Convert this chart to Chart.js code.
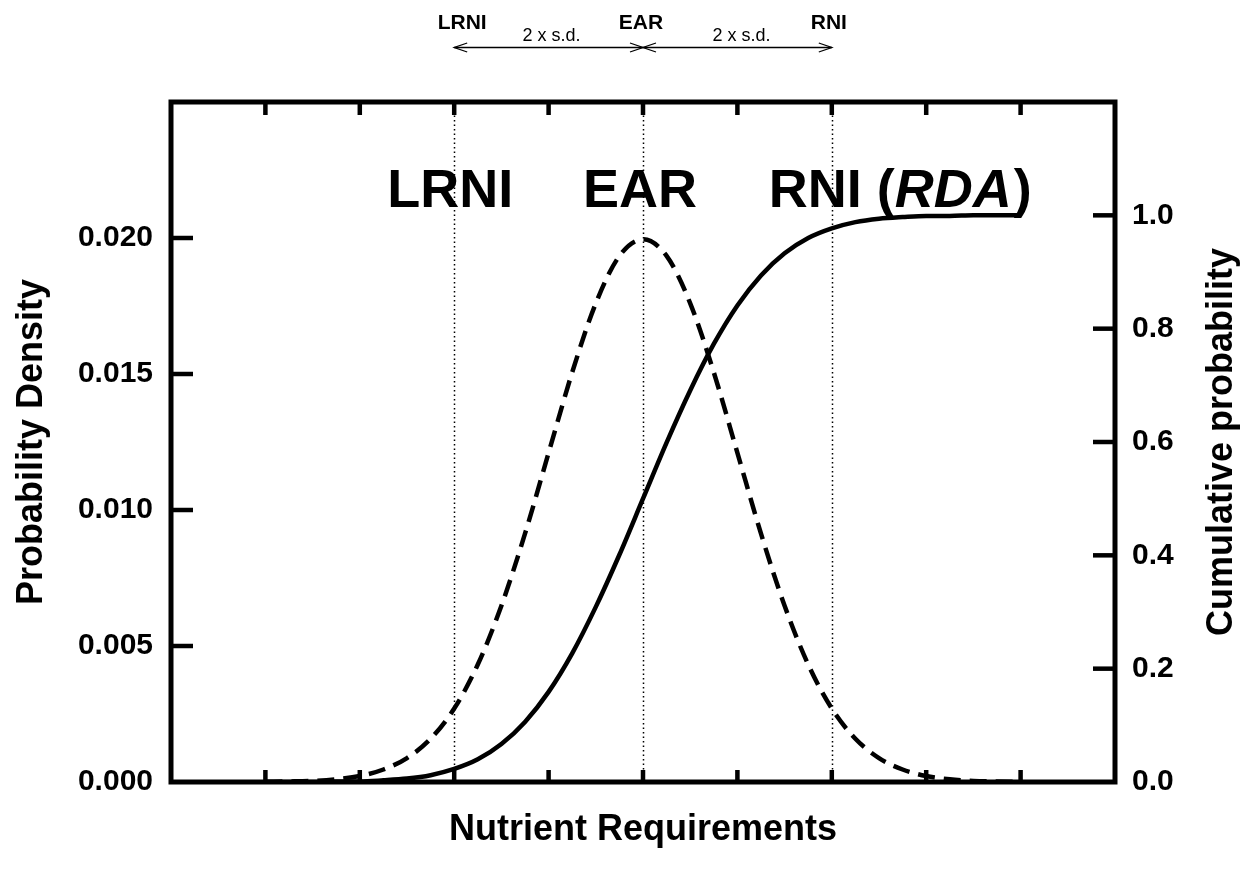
<!DOCTYPE html>
<html>
<head>
<meta charset="utf-8">
<title>Nutrient Requirements</title>
<script src="https://cdn.jsdelivr.net/npm/chart.js@4.4.0/dist/chart.umd.min.js"></script>
<style>
  html, body { margin: 0; padding: 0; background: #fff; }
  #wrap { width: 1246px; height: 871px; }
</style>
</head>
<body>
<div id="wrap"><canvas id="requisitos" width="1246" height="871"></canvas></div>
<script>
// requirement values and the two curves read at each of them
const requirement = [20, 25, 30, 35, 40, 45, 50, 55, 60, 65, 70, 75, 80, 85, 90, 95, 100,
  105, 110, 115, 120, 125, 130, 135, 140, 145, 150, 155, 160, 165, 170, 175, 180];
const density = [0.00001, 0.00002, 0.00004, 0.00010, 0.00022, 0.00046, 0.00088, 0.00159,
  0.00270, 0.00432, 0.00648, 0.00913, 0.01210, 0.01506, 0.01760, 0.01934, 0.01995,
  0.01934, 0.01760, 0.01506, 0.01210, 0.00913, 0.00648, 0.00432, 0.00270, 0.00159,
  0.00088, 0.00046, 0.00022, 0.00010, 0.00004, 0.00002, 0.00001];
const cumulative = [0.000, 0.000, 0.000, 0.001, 0.001, 0.003, 0.006, 0.012, 0.023,
  0.040, 0.067, 0.106, 0.159, 0.227, 0.309, 0.401, 0.500, 0.599, 0.691, 0.773, 0.841,
  0.894, 0.933, 0.960, 0.977, 0.988, 0.994, 0.997, 0.999, 0.999, 1.000, 1.000, 1.000];

// reference points (EAR +/- 2 s.d.)
const refNames = ['LRNI', 'EAR', 'RNI'];
const refValues = [60, 100, 140];

const xTicks = [0, 20, 40, 60, 80, 100, 120, 140, 160, 180, 200];
const densityTicks = [0, 0.005, 0.010, 0.015, 0.020];
const cumulativeTicks = [0, 0.2, 0.4, 0.6, 0.8, 1.0];

const FONT = '"Liberation Sans", Arial, sans-serif';
Chart.defaults.color = '#000';
Chart.defaults.font.family = FONT;

function arrowHead(ctx, x, y, dir) {
  ctx.beginPath();
  ctx.moveTo(x + dir * 13, y - 4.5);
  ctx.lineTo(x, y);
  ctx.lineTo(x + dir * 13, y + 4.5);
  ctx.stroke();
}

// frame, inward ticks, reference lines and labels
const decor = {
  id: 'decor',
  beforeDatasetsDraw(chart) {
    const { ctx, chartArea: a, scales } = chart;
    ctx.save();
    ctx.strokeStyle = '#000';
    ctx.lineWidth = 1.5;
    ctx.setLineDash([1.5, 3]);
    refValues.forEach(v => {
      const px = Math.round(scales.x.getPixelForValue(v)) + 0.5;
      ctx.beginPath();
      ctx.moveTo(px, a.top);
      ctx.lineTo(px, a.bottom);
      ctx.stroke();
    });
    ctx.restore();
  },
  afterDatasetsDraw(chart) {
    const { ctx, chartArea: a, scales } = chart;
    const x = scales.x;
    ctx.save();
    ctx.strokeStyle = '#000';
    ctx.fillStyle = '#000';
    ctx.setLineDash([]);

    // tick marks pointing into the plot
    ctx.lineWidth = 4.5;
    x.ticks.forEach(t => {
      if (t.value <= xTicks[0] || t.value >= xTicks[xTicks.length - 1]) return;
      const px = x.getPixelForValue(t.value);
      ctx.beginPath();
      ctx.moveTo(px, a.bottom); ctx.lineTo(px, a.bottom - 12);
      ctx.moveTo(px, a.top); ctx.lineTo(px, a.top + 13);
      ctx.stroke();
    });
    scales.y.ticks.forEach(t => {
      if (t.value === 0) return;
      const py = scales.y.getPixelForValue(t.value);
      ctx.beginPath();
      ctx.moveTo(a.left, py); ctx.lineTo(a.left + 22, py);
      ctx.stroke();
    });
    scales.y1.ticks.forEach(t => {
      if (t.value === 0) return;
      const py = scales.y1.getPixelForValue(t.value);
      ctx.beginPath();
      ctx.moveTo(a.right, py); ctx.lineTo(a.right - 22, py);
      ctx.stroke();
    });

    // frame
    ctx.lineWidth = 5;
    ctx.lineJoin = 'miter';
    ctx.strokeRect(a.left, a.top, a.right - a.left, a.bottom - a.top);

    // big labels inside the plot
    const p = refValues.map(v => x.getPixelForValue(v));
    ctx.textBaseline = 'alphabetic';
    ctx.textAlign = 'center';
    ctx.font = 'bold 54px ' + FONT;
    ctx.fillText(refNames[0], p[0] - 4, 207);
    ctx.fillText(refNames[1], p[1] - 3, 207);
    ctx.textAlign = 'left';
    let cx = p[2] - 63;
    const part1 = refNames[2] + ' (';
    ctx.fillText(part1, cx, 207);
    cx += ctx.measureText(part1).width;
    ctx.font = 'italic bold 54px ' + FONT;
    ctx.fillText('RDA', cx, 207);
    cx += ctx.measureText('RDA').width + 2;
    ctx.font = 'bold 54px ' + FONT;
    ctx.fillText(')', cx, 207);

    // annotation above the plot
    ctx.textAlign = 'center';
    ctx.font = 'bold 21px ' + FONT;
    ctx.fillText(refNames[0], p[0] + 8, 29);
    ctx.fillText(refNames[1], p[1] - 2, 29);
    ctx.fillText(refNames[2], p[2] - 3, 29);
    ctx.font = '18px ' + FONT;
    ctx.fillText('2 x s.d.', (p[0] + p[1]) / 2 + 3, 41);
    ctx.fillText('2 x s.d.', (p[1] + p[2]) / 2 + 4, 41);
    ctx.lineWidth = 1.3;
    const ay = 47.5;
    ctx.beginPath();
    ctx.moveTo(p[0], ay); ctx.lineTo(p[2], ay);
    ctx.stroke();
    arrowHead(ctx, p[0], ay, 1);
    arrowHead(ctx, p[1], ay, -1);
    arrowHead(ctx, p[1], ay, 1);
    arrowHead(ctx, p[2], ay, -1);

    // right axis title, reading upwards
    ctx.translate(1222, (a.top + a.bottom) / 2);
    ctx.rotate(-Math.PI / 2);
    ctx.textBaseline = 'middle';
    ctx.font = 'bold 36px ' + FONT;
    ctx.fillText('Cumulative probability', 0, 0);
    ctx.restore();
  }
};

const ctx = document.getElementById('requisitos').getContext('2d');

const grafico = new Chart(ctx, {
  type: 'line',
  data: {
    datasets: [{
      label: 'Probability Density',
      data: requirement.map((r, i) => ({ x: r, y: density[i] })),
      yAxisID: 'y',
      borderColor: '#000',
      borderWidth: 4.5,
      borderDash: [17, 9],
      borderCapStyle: 'butt',
      cubicInterpolationMode: 'monotone',
      pointRadius: 0,
      fill: false
    }, {
      label: 'Cumulative probability',
      data: requirement.map((r, i) => ({ x: r, y: cumulative[i] })),
      yAxisID: 'y1',
      borderColor: '#000',
      borderWidth: 4.5,
      cubicInterpolationMode: 'monotone',
      pointRadius: 0,
      fill: false
    }]
  },
  options: {
    responsive: false,
    animation: false,
    layout: { padding: { top: 102, left: 0, right: 0, bottom: 0 } },
    plugins: {
      legend: { display: false },
      tooltip: { enabled: false }
    },
    scales: {
      x: {
        type: 'linear',
        min: 0,
        max: 200,
        afterBuildTicks: s => { s.ticks = xTicks.map(v => ({ value: v })); },
        afterFit: s => { s.height = 89; },
        grid: { display: false, drawTicks: false },
        border: { display: false },
        ticks: { display: false },
        title: {
          display: true,
          text: 'Nutrient Requirements',
          font: { size: 36, weight: 'bold' },
          padding: { top: 0, bottom: 19 }
        }
      },
      y: {
        position: 'left',
        min: 0,
        max: 0.025,
        afterBuildTicks: s => { s.ticks = densityTicks.map(v => ({ value: v })); },
        afterFit: s => { s.width = 171; },
        grid: { display: false, drawTicks: false },
        border: { display: false },
        ticks: {
          padding: 18,
          font: { size: 30, weight: 'bold' },
          callback: v => v.toFixed(3)
        },
        title: {
          display: true,
          text: 'Probability Density',
          font: { size: 36, weight: 'bold' },
          padding: { top: 10, bottom: 0 }
        }
      },
      y1: {
        position: 'right',
        min: 0,
        max: 1.2,
        afterBuildTicks: s => { s.ticks = cumulativeTicks.map(v => ({ value: v })); },
        afterFit: s => { s.width = 131; },
        grid: { display: false, drawTicks: false },
        border: { display: false },
        ticks: {
          padding: 17,
          font: { size: 30, weight: 'bold' },
          callback: v => v.toFixed(1)
        }
      }
    }
  },
  plugins: [decor]
});
</script>
</body>
</html>
